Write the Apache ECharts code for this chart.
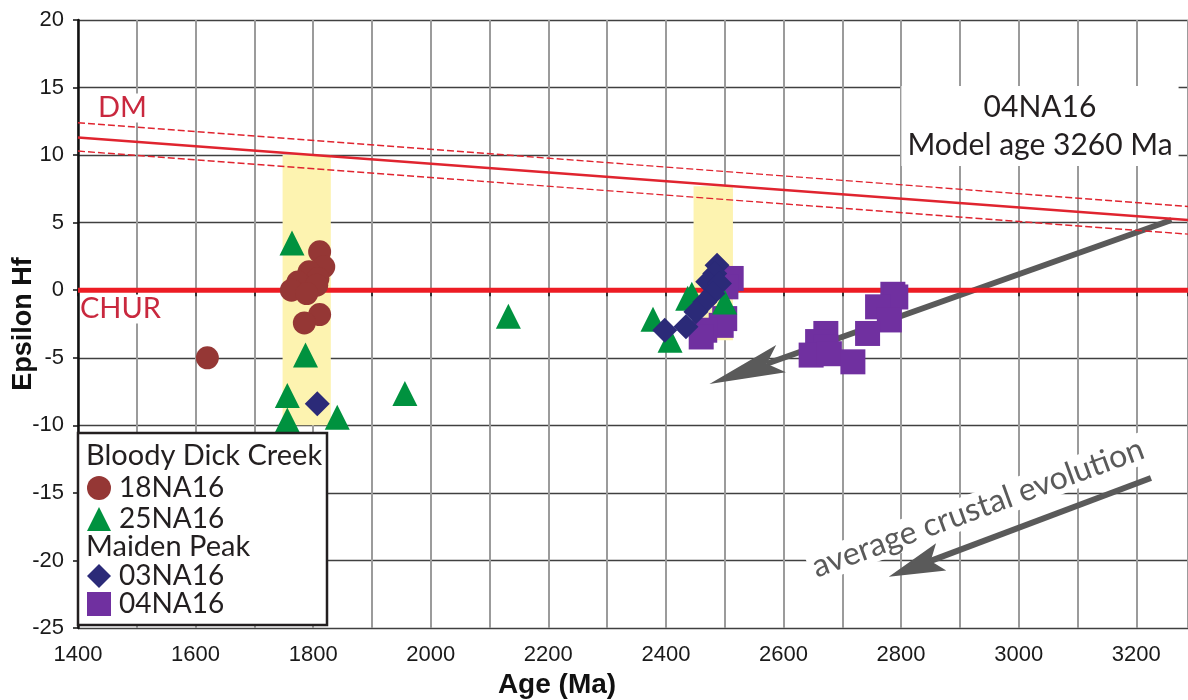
<!DOCTYPE html>
<html><head><meta charset="utf-8">
<script src="https://cdn.jsdelivr.net/npm/echarts@6/dist/echarts.min.js"></script>
<style>html,body{margin:0;padding:0;background:#fff}#c{width:1188px;height:700px}</style>
</head><body><div id="c"></div>
<script>
// ---- data (Age in Ma, Epsilon Hf) ----
const sample18NA16 = [[1620,-5.0],[1811,2.84],[1818,1.73],[1793,1.36],[1808,0.86],[1774,0.6],[1806,0.37],[1763,0.0],[1789,-0.25],[1811,-1.8],[1785,-2.42]];
const sample25NA16 = [[1764,3.5],[1787,-4.8],[1756,-7.8],[1756,-9.6],[1841,-9.4],[1956,-7.65],[2132,-1.92],[2378,-2.15],[2407,-3.7],[2437,-0.6],[2444,-0.3],[2500,-0.87]];
const sample03NA16 = [[1807,-8.4],[2487,1.85],[2483,1.23],[2471,0.62],[2491,0.49],[2480,-0.25],[2466,-0.87],[2451,-1.6],[2434,-2.7],[2398,-2.96]];
const sample04NA16 = [[2511,0.87],[2502,0.25],[2500,-2.1],[2494,-2.6],[2466,-2.96],[2460,-3.46],[2786,-0.3],[2791,-0.5],[2760,-1.23],[2780,-2.2],[2743,-3.2],[2672,-3.2],[2658,-3.8],[2672,-4.2],[2647,-4.8],[2678,-4.7],[2718,-5.3]];
const dmAge = [1400, 3288];
const dmEps = [11.3, 5.2];
const dmUpperEps = [12.4, 6.2];
const dmLowerEps = [10.3, 4.15];
const churEps = [0, 0];
const bandAges = [[1748, 1830], [2447, 2514]];
const bandEps = [[10, -10], [7.7, -3.7]];
const arrowData = [[3260, 5.2, 2474, -6.95], [3225, -13.9, 2779, -21.2]];
const xMin = 1400, xMax = 3288, xStep = 100, xLabelStep = 200;
const yMin = -25, yMax = 20, yStep = 5;

const chart = echarts.init(document.getElementById('c'), null, {renderer: 'canvas'});
const pair = (xs, ys) => xs.map((x, i) => [x, ys[i]]);
const sans = 'Liberation Sans';
const hum = 'Lato';

const option = {
  animation: false,
  backgroundColor: '#fff',
  grid: {left: 78, right: 0, top: 20, bottom: 72, containLabel: false, outerBoundsMode: 'none'},
  xAxis: {
    type: 'value', min: xMin, max: xMax, interval: xStep,
    axisLine: {lineStyle: {color: '#111', width: 2}},
    axisTick: {show: true, length: 6, lineStyle: {color: '#111', width: 1.5}},
    axisLabel: {formatter: v => (v % xLabelStep === 0 ? String(v) : ''), fontFamily: sans, fontSize: 22, color: '#1a1a1a', margin: 16},
    splitLine: {show: true, lineStyle: {color: '#9b9b9b', width: 2}},
    name: 'Age (Ma)', nameLocation: 'middle', nameGap: 43, nameMoveOverlap: false,
    nameTextStyle: {fontFamily: sans, fontWeight: 'bold', fontSize: 28, color: '#111', padding: [0, 152, 0, 0]}
  },
  yAxis: {
    type: 'value', min: yMin, max: yMax, interval: yStep,
    axisLine: {show: true, lineStyle: {color: '#111', width: 2.5}},
    axisTick: {show: true, length: 5, lineStyle: {color: '#111', width: 1.5}},
    axisLabel: {fontFamily: sans, fontSize: 22, color: '#1a1a1a', margin: 14},
    splitLine: {show: true, lineStyle: {color: '#404040', width: 1.3}},
    name: 'Epsilon Hf', nameLocation: 'middle', nameGap: 41, nameMoveOverlap: false,
    nameTextStyle: {fontFamily: sans, fontWeight: 'bold', fontSize: 27, color: '#111'}
  },
  legend: [
    {data: ['18NA16', '25NA16'], orient: 'vertical', left: 87, top: 474, padding: 0, itemWidth: 24, itemHeight: 24, itemGap: 3,
     selectedMode: false, z: 20, textStyle: {fontFamily: hum, fontSize: 28, lineHeight: 24, color: '#231f20', padding: [0, 0, 0, 3]}},
    {data: ['03NA16', '04NA16'], orient: 'vertical', left: 87, top: 562, padding: 0, itemWidth: 24, itemHeight: 24, itemGap: 0,
     selectedMode: false, z: 20, textStyle: {fontFamily: hum, fontSize: 28, lineHeight: 24, color: '#231f20', padding: [0, 0, 0, 3]}}
  ],
  graphic: [
    {type: 'rect', z: 10, shape: {x: 78, y: 433, width: 249, height: 192}, style: {fill: '#fff', stroke: '#231f20', lineWidth: 2.5}},
    {type: 'text', z: 21, x: 86, y: 456, style: {text: 'Bloody Dick Creek', font: '29px Lato', fill: '#231f20', verticalAlign: 'middle', textVerticalAlign: 'middle'}},
    {type: 'text', z: 21, x: 86, y: 547, style: {text: 'Maiden Peak', font: '29px Lato', fill: '#231f20', verticalAlign: 'middle', textVerticalAlign: 'middle'}},
    {type: 'text', z: 1, x: 96, y: 108, style: {text: 'DM', font: '29px Lato', fill: '#c9283e', verticalAlign: 'middle', textVerticalAlign: 'middle', backgroundColor: '#fff', padding: [0, 2]}},
    {type: 'text', z: 1, x: 80, y: 309, style: {text: 'CHUR', font: '29px Lato', fill: '#c9283e', verticalAlign: 'middle', textVerticalAlign: 'middle', backgroundColor: '#fff', padding: [0, 2, 0, 0]}},
    {type: 'text', z: 1, x: 1040, y: 126, style: {text: '04NA16\nModel age 3260 Ma', font: '30px Lato', lineHeight: 38, fill: '#231f20', align: 'center', textAlign: 'center', verticalAlign: 'middle', textVerticalAlign: 'middle', backgroundColor: '#fff', padding: [2, 6]}},
    {type: 'text', z: 1, x: 978, y: 508, rotation: 0.35, style: {text: 'average crustal evolution', font: '32px Lato', fill: '#5a5a5a', align: 'center', textAlign: 'center', verticalAlign: 'middle', textVerticalAlign: 'middle', backgroundColor: '#fff', padding: [0, 4]}}
  ],
  series: [
    {type: 'scatter', name: 'bands', data: [], z: 1, silent: true,
     markArea: {silent: true, itemStyle: {color: '#fdf3b0'},
       data: bandAges.map((b, i) => [{coord: [b[0], bandEps[i][0]]}, {coord: [b[1], bandEps[i][1]]}])}},
    {type: 'line', name: 'CHUR', data: pair(dmAge, churEps), symbol: 'none', silent: true, z: 3, lineStyle: {color: '#ed1c24', width: 5}},
    {type: 'line', name: 'DM', data: pair(dmAge, dmEps), symbol: 'none', silent: true, z: 3, lineStyle: {color: '#e0242f', width: 2.5}},
    {type: 'line', name: 'DMupper', data: pair(dmAge, dmUpperEps), symbol: 'none', silent: true, z: 3, lineStyle: {color: '#e0242f', width: 1.4, type: [7, 3]}},
    {type: 'line', name: 'DMlower', data: pair(dmAge, dmLowerEps), symbol: 'none', silent: true, z: 3, lineStyle: {color: '#e0242f', width: 1.4, type: [7, 3]}},
    {type: 'custom', name: 'arrows', data: arrowData, z: 3, silent: true,
     encode: {x: [0, 2], y: [1, 3]},
     renderItem: function (params, api) {
       const s = api.coord([api.value(0), api.value(1)]);
       const t = api.coord([api.value(2), api.value(3)]);
       const headLen = params.dataIndex === 0 ? 76 : 56;
       const headW = 29;
       const dx = t[0] - s[0], dy = t[1] - s[1];
       const d = Math.hypot(dx, dy), ux = dx / d, uy = dy / d, px = -uy, py = ux;
       const bx = t[0] - ux * headLen, by = t[1] - uy * headLen;
       const nx = t[0] - ux * headLen * 0.8, ny = t[1] - uy * headLen * 0.8;
       return {type: 'group', children: [
         {type: 'line', shape: {x1: s[0], y1: s[1], x2: nx, y2: ny}, style: {stroke: '#5a5a5a', lineWidth: 6}},
         {type: 'polygon', shape: {points: [t, [bx + px * headW / 2, by + py * headW / 2], [nx, ny], [bx - px * headW / 2, by - py * headW / 2]]}, style: {fill: '#5a5a5a'}}
       ]};
     }},
    {type: 'scatter', name: '04NA16', data: sample04NA16, symbol: 'rect', symbolSize: 25, z: 4, itemStyle: {color: '#7030a0', opacity: 1}},
    {type: 'scatter', name: '18NA16', data: sample18NA16, symbol: 'circle', symbolSize: 23, z: 5, itemStyle: {color: '#953735', opacity: 1}},
    {type: 'scatter', name: '25NA16', data: sample25NA16, symbol: 'triangle', symbolSize: 25, z: 6, itemStyle: {color: '#00923f', opacity: 1}},
    {type: 'scatter', name: '03NA16', data: sample03NA16, symbol: 'diamond', symbolSize: 25, z: 7, itemStyle: {color: '#2b2a78', opacity: 1}}
  ]
};
chart.setOption(option);
</script>
</body></html>
